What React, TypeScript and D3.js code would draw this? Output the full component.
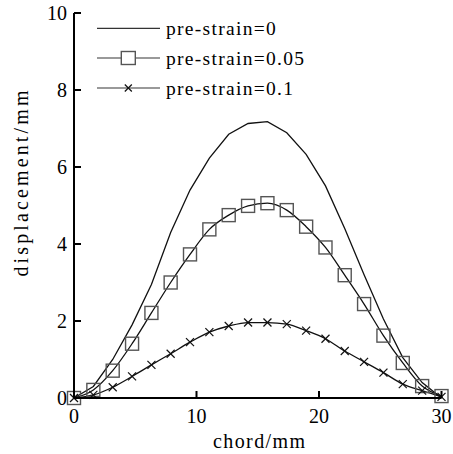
import React from "react";
import * as d3 from "d3";

const chordX = [0, 1.58, 3.16, 4.74, 6.32, 7.89, 9.47, 11.05, 12.63, 14.21, 15.79, 17.37, 18.95, 20.53, 22.1, 23.68, 25.26, 26.84, 28.42, 30];
const strain0 = [0, 0.3, 1.0, 1.9, 2.95, 4.3, 5.4, 6.23, 6.85, 7.13, 7.18, 6.89, 6.33, 5.51, 4.4, 3.2, 2.05, 1.05, 0.4, 0];
const strain005 = [0, 0.21, 0.71, 1.41, 2.21, 3.0, 3.73, 4.38, 4.75, 4.99, 5.06, 4.88, 4.45, 3.91, 3.19, 2.44, 1.62, 0.91, 0.31, 0.05];
const strain01 = [0, 0.08, 0.28, 0.56, 0.86, 1.15, 1.45, 1.71, 1.87, 1.96, 1.96, 1.92, 1.75, 1.54, 1.22, 0.94, 0.66, 0.36, 0.19, 0.03];
const xTicks = [0, 10, 20, 30];
const yTicks = [0, 2, 4, 6, 8, 10];
const seriesLabels = ["pre-strain=0", "pre-strain=0.05", "pre-strain=0.1"];
const xTitle = "chord/mm";
const yTitle = "displacement/mm";

const W = 453;
const H = 454;
const FONT = "'Liberation Serif', 'Times New Roman', serif";

export default function App() {
  const x = d3.scaleLinear().domain([0, 30]).range([74, 441.5]);
  const y = d3.scaleLinear().domain([0, 10]).range([398, 13]);
  const pts = (vals: number[]) => chordX.map((c, i) => [c, vals[i]] as [number, number]);
  const lineLin = d3.line<[number, number]>().x((d) => x(d[0])).y((d) => y(d[1]));
  const lineSmooth = d3
    .line<[number, number]>()
    .x((d) => x(d[0]))
    .y((d) => y(d[1]))
    .curve(d3.curveMonotoneX);

  const sq = 13;
  const cr = 4;
  const legendY = [28.3, 58, 88];

  return (
    <div style={{ position: "absolute", left: 0, top: 0 }}>
      <svg width={W} height={H} style={{ display: "block", background: "#fff" }} fontFamily={FONT}>
        <rect x={0} y={0} width={W} height={H} fill="#fff" />
        {/* series lines */}
        <path d={lineLin(pts(strain0)) || ""} fill="none" stroke="#111" strokeWidth={1.3} />
        <path d={lineSmooth(pts(strain005)) || ""} fill="none" stroke="#111" strokeWidth={1.3} />
        <path d={lineSmooth(pts(strain01)) || ""} fill="none" stroke="#111" strokeWidth={1.3} />
        {/* square markers */}
        {pts(strain005).map((d, i) => (
          <rect
            key={"s" + i}
            x={x(d[0]) - sq / 2}
            y={y(d[1]) - sq / 2}
            width={sq}
            height={sq}
            fill="none"
            stroke="#555"
            strokeWidth={1.4}
          />
        ))}
        {/* cross markers */}
        {pts(strain01).map((d, i) => (
          <g key={"c" + i} stroke="#111" strokeWidth={1.2}>
            <line x1={x(d[0]) - cr} y1={y(d[1]) - cr} x2={x(d[0]) + cr} y2={y(d[1]) + cr} />
            <line x1={x(d[0]) - cr} y1={y(d[1]) + cr} x2={x(d[0]) + cr} y2={y(d[1]) - cr} />
          </g>
        ))}
        {/* axes */}
        <line x1={x(0)} y1={y(0)} x2={x(30)} y2={y(0)} stroke="#000" strokeWidth={2} />
        <line x1={x(0)} y1={y(0)} x2={x(0)} y2={y(10)} stroke="#000" strokeWidth={2} />
        {yTicks.map((t) => (
          <g key={"yt" + t}>
            <line x1={x(0)} x2={x(0) + 7} y1={y(t)} y2={y(t)} stroke="#000" strokeWidth={2} />
            <text x={67} y={y(t) + 7} textAnchor="end" fontSize={20} fill="#000">
              {t}
            </text>
          </g>
        ))}
        {xTicks.map((t) => (
          <g key={"xt" + t}>
            <line x1={x(t)} x2={x(t)} y1={y(0)} y2={y(0) - 7} stroke="#000" strokeWidth={2} />
            <text x={x(t)} y={423} textAnchor="middle" fontSize={20} fill="#000">
              {t}
            </text>
          </g>
        ))}
        <text x={259} y={448} textAnchor="middle" fontSize={20} fill="#000" textLength={92} lengthAdjust="spacing">
          {xTitle}
        </text>
        <text
          transform={`translate(28,183.5) rotate(-90)`}
          textAnchor="middle"
          fontSize={20}
          fill="#000"
          textLength={186}
          lengthAdjust="spacing"
        >
          {yTitle}
        </text>
        {/* legend */}
        {seriesLabels.map((s, i) => (
          <g key={"lg" + i}>
            <line x1={97} x2={160} y1={legendY[i]} y2={legendY[i]} stroke={i === 0 ? "#333" : "#777"} strokeWidth={1.3} />
            {i === 1 && (
              <rect x={128.3 - 7} y={legendY[i] - 6.5} width={14} height={13} fill="#fff" stroke="#555" strokeWidth={1.4} />
            )}
            {i === 2 && (
              <g stroke="#111" strokeWidth={1.2}>
                <line x1={128.3 - 3.5} y1={legendY[i] - 3.5} x2={128.3 + 3.5} y2={legendY[i] + 3.5} />
                <line x1={128.3 - 3.5} y1={legendY[i] + 3.5} x2={128.3 + 3.5} y2={legendY[i] - 3.5} />
              </g>
            )}
            <text x={166} y={legendY[i] + 6.5} fontSize={19.5} fill="#000" letterSpacing={1.3}>
              {s}
            </text>
          </g>
        ))}
      </svg>
    </div>
  );
}
